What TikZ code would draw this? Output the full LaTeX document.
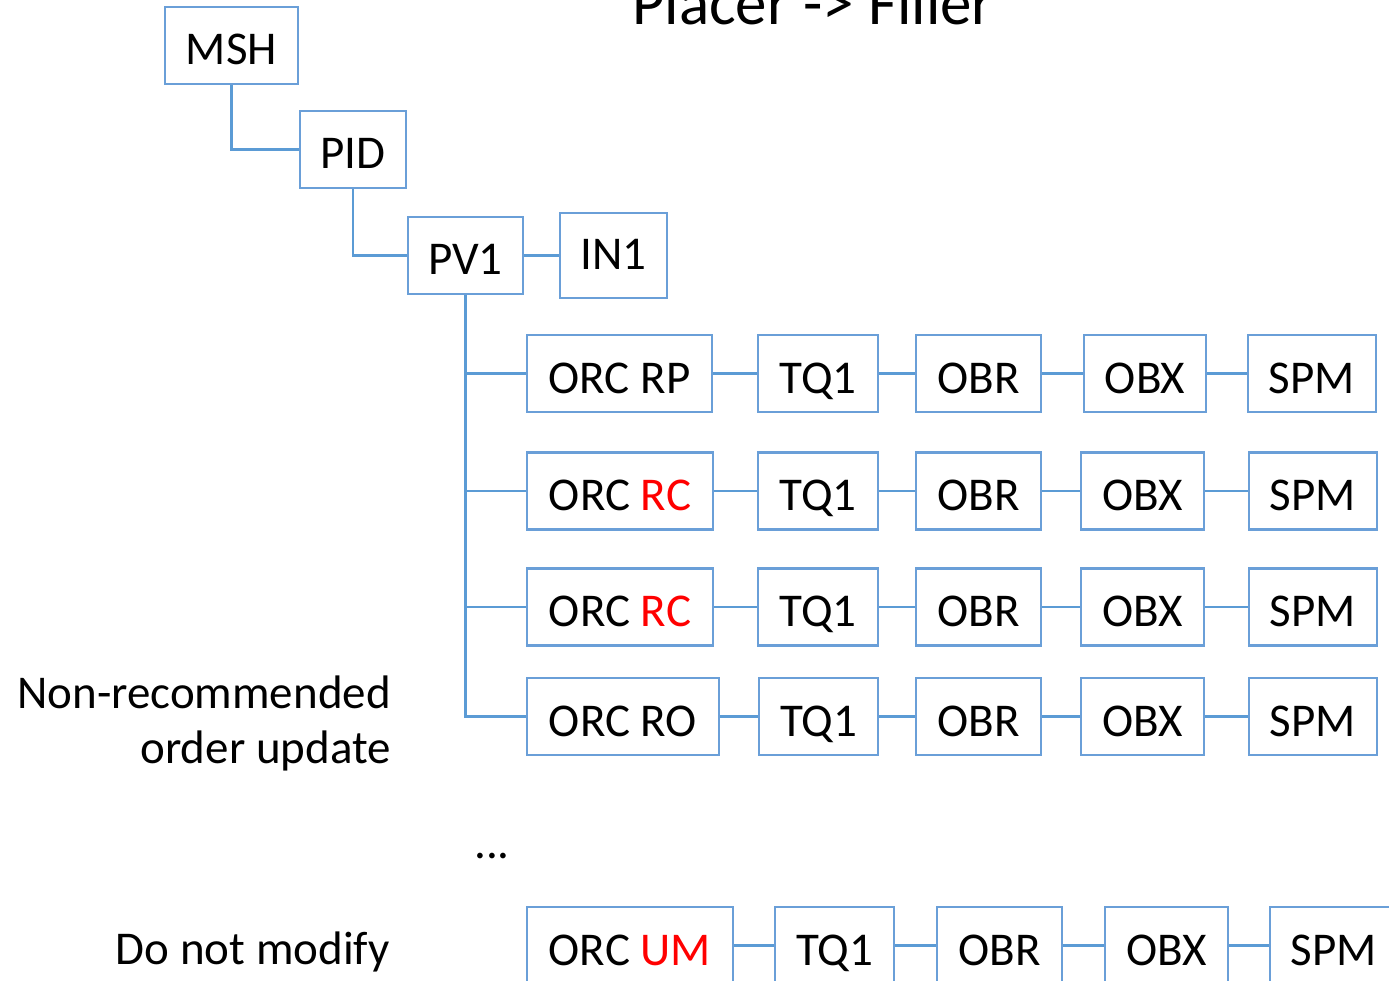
\documentclass[tikz,border=0pt]{standalone}
\usepackage{fontspec}
\setmainfont{Carlito}
\definecolor{lineblue}{HTML}{5B9BD5}
\definecolor{boxblue}{HTML}{6A9FD8}
\definecolor{hlred}{HTML}{FF0000}
\tikzset{
  seg/.style={draw=boxblue, line width=2.2pt, rectangle, inner sep=0pt,
    minimum height=77pt, text height=39pt, text depth=0pt,
    font=\fontsize{47}{57}\selectfont},
  conn/.style={draw=lineblue, line width=2.6pt},
  lbl/.style={inner sep=0pt, font=\fontsize{47}{57}\selectfont},
}
\begin{document}
\begin{tikzpicture}[x=1pt,y=-1pt]
\useasboundingbox (0,0) rectangle (1389,981);
\clip (0,0) rectangle (1389,981);
% title
\node[lbl, anchor=base, font=\fontsize{63}{76}\selectfont] (title) at (813,25) {Placer -> Filler};
% header segments
\node[seg, minimum width=133pt] (msh) at (231.5,45.5) {MSH};
\node[seg, minimum width=106pt] (pid) at (353,149.5) {PID};
\node[seg, minimum width=115pt] (pv1) at (465.5,255.5) {PV1};
\node[seg, minimum width=107pt, minimum height=85pt, text height=29pt] (in1) at (613.5,255.5) {IN1};
% row 1
\node[seg, minimum width=185pt] (orc1) at (619.5,373.5) {ORC RP};
\node[seg, minimum width=120pt] (tq1a) at (818,373.5) {TQ1};
\node[seg, minimum width=125pt] (obr1) at (978.5,373.5) {OBR};
\node[seg, minimum width=122pt] (obx1) at (1145,373.5) {OBX};
\node[seg, minimum width=128pt] (spm1) at (1312,373.5) {SPM};
% row 2
\node[seg, minimum width=186pt] (orc2) at (620,491) {ORC \textcolor{hlred}{RC}};
\node[seg, minimum width=120pt] (tq1b) at (818,491) {TQ1};
\node[seg, minimum width=125pt] (obr2) at (978.5,491) {OBR};
\node[seg, minimum width=123pt] (obx2) at (1142.5,491) {OBX};
\node[seg, minimum width=128pt] (spm2) at (1313,491) {SPM};
% row 3
\node[seg, minimum width=186pt] (orc3) at (620,607) {ORC \textcolor{hlred}{RC}};
\node[seg, minimum width=120pt] (tq1c) at (818,607) {TQ1};
\node[seg, minimum width=125pt] (obr3) at (978.5,607) {OBR};
\node[seg, minimum width=123pt] (obx3) at (1142.5,607) {OBX};
\node[seg, minimum width=128pt] (spm3) at (1313,607) {SPM};
% row 4
\node[seg, minimum width=192pt] (orc4) at (623,716.5) {ORC RO};
\node[seg, minimum width=119pt] (tq1d) at (818.5,716.5) {TQ1};
\node[seg, minimum width=125pt] (obr4) at (978.5,716.5) {OBR};
\node[seg, minimum width=123pt] (obx4) at (1142.5,716.5) {OBX};
\node[seg, minimum width=128pt] (spm4) at (1313,716.5) {SPM};
% bottom row
\node[seg, minimum width=206pt] (orc5) at (630,945.5) {ORC \textcolor{hlred}{UM}};
\node[seg, minimum width=119pt] (tq1e) at (834.5,945.5) {TQ1};
\node[seg, minimum width=125pt] (obr5) at (999.5,945.5) {OBR};
\node[seg, minimum width=123pt] (obx5) at (1166.5,945.5) {OBX};
\node[seg, minimum width=128pt] (spm5) at (1334,945.5) {SPM};
% labels
\node[lbl, anchor=base east] (nonrec) at (391,708) {Non-recommended};
\node[lbl, anchor=base east] (ordupd) at (391,763) {order update};
\node[lbl, anchor=base east] (donot) at (390,964) {Do not modify};
\node[lbl, anchor=base west] (dots) at (474,858) {...};
% connectors
\draw[conn] (msh.south) |- (pid.west);
\draw[conn] (pid.south) |- (pv1.west);
\draw[conn] (pv1.east) -- (in1.west);
\draw[conn] (pv1.south) |- (orc4.west);
\draw[conn] (pv1.south) |- (orc1.west);
\draw[conn] (pv1.south) |- (orc2.west);
\draw[conn] (pv1.south) |- (orc3.west);
\draw[conn] (orc1.east) -- (tq1a.west);
\draw[conn] (orc2.east) -- (tq1b.west);
\draw[conn] (orc3.east) -- (tq1c.west);
\draw[conn] (orc4.east) -- (tq1d.west);
\draw[conn] (orc5.east) -- (tq1e.west);
\draw[conn] (tq1a.east) -- (obr1.west);
\draw[conn] (tq1b.east) -- (obr2.west);
\draw[conn] (tq1c.east) -- (obr3.west);
\draw[conn] (tq1d.east) -- (obr4.west);
\draw[conn] (tq1e.east) -- (obr5.west);
\foreach \r in {1,2,3,4,5}{
  \draw[conn] (obr\r.east) -- (obx\r.west);
  \draw[conn] (obx\r.east) -- (spm\r.west);
}
\end{tikzpicture}
\end{document}
